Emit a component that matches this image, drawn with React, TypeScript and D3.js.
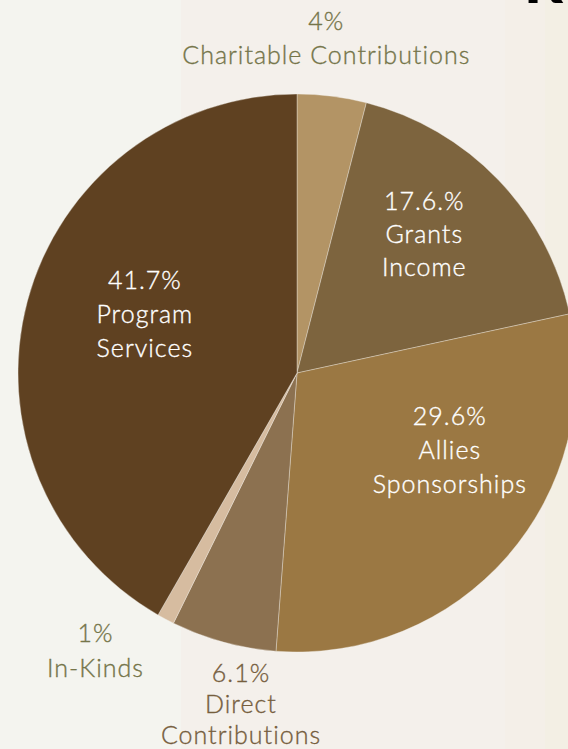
import { useEffect, useRef } from "react";
import * as d3 from "d3";

// slice data, clockwise from 12 o'clock
const categories = ["Charitable Contributions", "Grants Income", "Allies Sponsorships", "Direct Contributions", "In-Kinds", "Program Services"];
const values = [4, 17.6, 29.6, 6.1, 1, 41.7];
const valueLabels = ["4%", "17.6.%", "29.6%", "6.1%", "1%", "41.7%"];
const labelLines = [
  ["Charitable Contributions"],
  ["Grants", "Income"],
  ["Allies", "Sponsorships"],
  ["Direct", "Contributions"],
  ["In-Kinds"],
  ["Program", "Services"]
];
const sliceColors = ["#b39465", "#7d643e", "#9b7843", "#8c7150", "#d6bca0", "#5f4121"];

export default function App() {
  const ref = useRef<SVGSVGElement | null>(null);

  useEffect(() => {
    if (!ref.current) return;
    const width = 568;
    const height = 749;
    const cx = 297;
    const cy = 373;
    const radius = 279;

    const svg = d3.select(ref.current);
    svg.selectAll("*").remove();
    svg.attr("width", width).attr("height", height);

    // background panels
    svg.append("rect").attr("width", width).attr("height", height).attr("fill", "#f4f4ef");
    svg.append("rect").attr("x", 181).attr("width", 324).attr("height", height).attr("fill", "#f4f0eb");
    svg.append("rect").attr("x", 505).attr("width", 40).attr("height", height).attr("fill", "#f4efe8");
    svg.append("rect").attr("x", 545).attr("width", 23).attr("height", height).attr("fill", "#f3efe4");

    // partial heading glyph peeking in at top right
    svg.append("text")
      .attr("x", 524)
      .attr("y", 3)
      .attr("fill", "#000")
      .style("font-family", "Lato, sans-serif")
      .style("font-weight", "900")
      .style("font-size", "60px")
      .text("R");

    const g = svg.append("g").attr("transform", `translate(${cx}, ${cy})`);

    const pie = d3.pie<number>().sort(null).value(d => d);
    const arcs = pie(values);
    const arc = d3.arc<d3.PieArcDatum<number>>().innerRadius(0).outerRadius(radius);

    g.selectAll(".slice")
      .data(arcs)
      .enter()
      .append("path")
      .attr("class", "slice")
      .attr("d", arc)
      .attr("fill", (d, i) => sliceColors[i])
      .attr("stroke", "#f4f0eb")
      .attr("stroke-width", 0.6)
      .attr("stroke-opacity", 0.6);

    // label placement: angle (deg, clockwise from top) and distance from center
    const placement: [number, number][] = [
      [5, 336],
      [42.6, 188],
      [116.7, 171],
      [189.6, 336],
      [216, 343],
      [291, 163]
    ];
    const inside = [false, true, true, false, false, true];
    const outsideColors = ["#75754a", "", "", "#765e3e", "#75754a", ""];
    const lineGap = [34, 33, 34, 31, 35, 34];

    arcs.forEach((d, i) => {
      const [deg, r] = placement[i];
      const a = (deg * Math.PI) / 180;
      const x = r * Math.sin(a);
      const y = -r * Math.cos(a);
      const lines = [valueLabels[i], ...labelLines[i]];
      const gap = lineGap[i];
      const y0 = y - ((lines.length - 1) * gap) / 2;
      const color = inside[i] ? "#ffffff" : outsideColors[i];
      const t = g.append("text")
        .attr("text-anchor", "middle")
        .attr("fill", color)
        .attr("stroke", color)
        .attr("stroke-width", 0.35)
        .style("font-family", "Lato, sans-serif")
        .style("font-weight", "300")
        .style("font-size", "25px")
        .style("letter-spacing", "1px")
        .attr("aria-label", categories[i]);
      lines.forEach((line, k) => {
        t.append("tspan")
          .attr("x", x)
          .attr("y", y0 + k * gap)
          .attr("dy", "0.35em")
          .text(line);
      });
    });
  }, []);

  return (
    <div style={{ position: "fixed", left: 0, top: 0 }}>
      <svg ref={ref} style={{ display: "block" }} />
    </div>
  );
}
